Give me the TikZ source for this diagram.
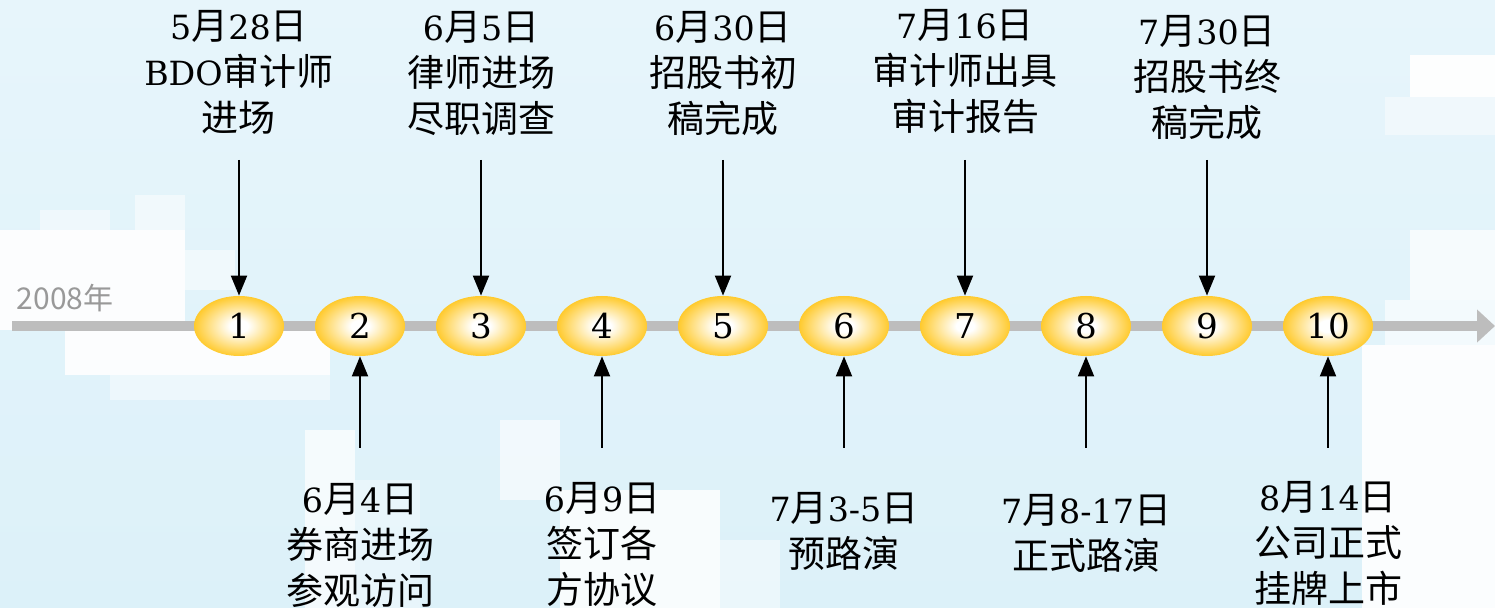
\documentclass[tikz,border=0pt]{standalone}
\usepackage{fontspec}
\usetikzlibrary{arrows.meta,shapes.geometric}
\setmainfont{DejaVu Serif}[Scale=0.9]
\newfontfamily\cjk{Noto Sans CJK SC}
\newcommand\zh[1]{{\cjk #1}}
\definecolor{skytop}{HTML}{E7F5FB}
\definecolor{skymid}{HTML}{C1E9F7}
\definecolor{skybot}{HTML}{DCF1F9}
\definecolor{stagegold}{RGB}{255,194,14}
\definecolor{axisgray}{HTML}{BDBDBD}
\definecolor{yeargray}{HTML}{999999}
\pgfdeclareradialshading{goldball}{\pgfpoint{0bp}{0bp}}{%
  color(0bp)=(white); color(5bp)=(white);
  color(28bp)=(stagegold); color(50bp)=(stagegold)}
\tikzset{%
  stage/.style={
    ellipse,
    minimum width=45pt,
    minimum height=30pt,
    inner sep=0pt,
    shading=goldball,
    font=\fontsize{19pt}{22pt}\selectfont
  },
  event/.style={
    align=center,
    inner sep=0pt,
    font=\fontsize{18.5pt}{23pt}\selectfont
  },
  pointer/.style={
    line width=1pt,
    -{Triangle[width=8pt,length=10pt]}
  },
  cloud/.style={
    fill=white,
    draw=none
  }
}

\begin{document}
\begin{tikzpicture}[x=0.5pt, y=-0.5pt]
        %%%%%%%%%%%%%%%%%%%%%%%%%%%%%%%%%%%%%%%%%%%%
        % Sky
        %%%%%%%%%%%%%%%%%%%%%%%%%%%%%%%%%%%%%%%%%%%%
        \shade [top color=skytop, middle color=skymid, bottom color=skybot]
            (0,0) rectangle (1495,608);
        \useasboundingbox (0,0) rectangle (1495,608);

        % Clouds
        \foreach \xa/\ya/\xb/\yb/\o in {
            0/230/185/330/0.9, 135/195/185/230/0.5, 40/210/110/240/0.45,
            185/250/235/290/0.5, 65/330/330/375/0.9, 110/375/330/400/0.45,
            305/430/355/608/0.7, 355/480/420/608/0.35, 500/420/560/500/0.6,
            560/490/720/608/0.8, 720/540/780/608/0.45,
            1410/55/1495/97/0.95, 1385/97/1495/135/0.45,
            1410/230/1495/300/0.7, 1385/300/1495/345/0.6,
            1362/345/1495/608/0.9}
            \fill [cloud, opacity=\o] (\xa,\ya) rectangle (\xb,\yb);

        %%%%%%%%%%%%%%%%%%%%%%%%%%%%%%%%%%%%%%%%%%%%
        % Time axis
        %%%%%%%%%%%%%%%%%%%%%%%%%%%%%%%%%%%%%%%%%%%%
        \coordinate (axis-start) at (12,326);
        \coordinate (axis-end) at (1495,326);
        \draw [axisgray, line width=5pt, -{Triangle[width=16pt,length=9pt]}]
            (axis-start) -- (axis-end);
        \node [yeargray, font=\cjk\fontsize{15pt}{17pt}\selectfont] (year) at (65,298) {2008年};

        %%%%%%%%%%%%%%%%%%%%%%%%%%%%%%%%%%%%%%%%%%%%
        % Stages
        %%%%%%%%%%%%%%%%%%%%%%%%%%%%%%%%%%%%%%%%%%%%
        \foreach \i in {1,...,10}
            \node [stage] (stage-\i) at ({118+121*\i},326) {\i};

        %%%%%%%%%%%%%%%%%%%%%%%%%%%%%%%%%%%%%%%%%%%%
        % Events above
        %%%%%%%%%%%%%%%%%%%%%%%%%%%%%%%%%%%%%%%%%%%%
        \foreach \i/\y/\txt in {
            1/72/{5\zh{月}28\zh{日}\\BDO\zh{审计师}\\\zh{进场}},
            3/74/{6\zh{月}5\zh{日}\\\zh{律师进场}\\\zh{尽职调查}},
            5/74/{6\zh{月}30\zh{日}\\\zh{招股书初}\\\zh{稿完成}},
            7/72/{7\zh{月}16\zh{日}\\\zh{审计师出具}\\\zh{审计报告}},
            9/78/{7\zh{月}30\zh{日}\\\zh{招股书终}\\\zh{稿完成}}}
        {
            \node [event] (event-\i) at ({118+121*\i},\y) {\txt};
            \coordinate (tail-\i) at ({118+121*\i},160);
            \draw [pointer] (tail-\i) -- (stage-\i.north);
        }

        %%%%%%%%%%%%%%%%%%%%%%%%%%%%%%%%%%%%%%%%%%%%
        % Events below
        %%%%%%%%%%%%%%%%%%%%%%%%%%%%%%%%%%%%%%%%%%%%
        \foreach \i/\y/\txt in {
            2/545/{6\zh{月}4\zh{日}\\\zh{券商进场}\\\zh{参观访问}},
            4/545/{6\zh{月}9\zh{日}\\\zh{签订各}\\\zh{方协议}},
            6/531/{7\zh{月}3-5\zh{日}\\\zh{预路演}},
            8/533/{7\zh{月}8-17\zh{日}\\\zh{正式路演}},
            10/543/{8\zh{月}14\zh{日}\\\zh{公司正式}\\\zh{挂牌上市}}}
        {
            \node [event] (event-\i) at ({118+121*\i},\y) {\txt};
            \coordinate (tail-\i) at ({118+121*\i},448);
            \draw [pointer] (tail-\i) -- (stage-\i.south);
        }
    \end{tikzpicture}
\end{document}
